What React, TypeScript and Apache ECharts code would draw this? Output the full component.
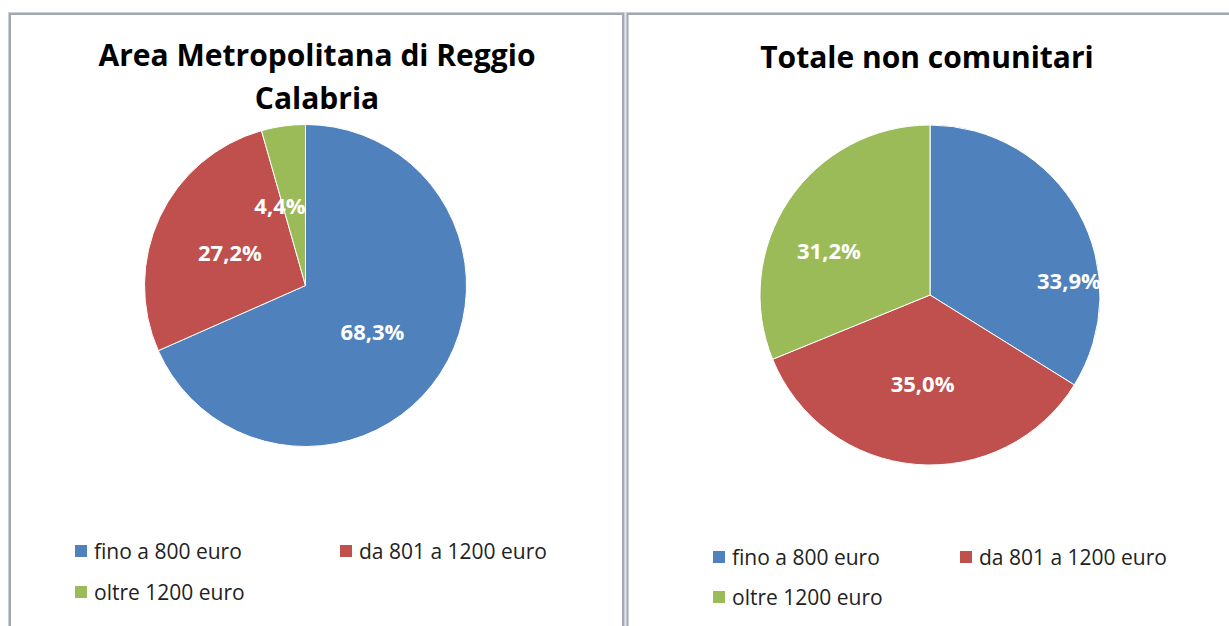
import React, { useEffect, useRef } from "react";
import * as echarts from "echarts";

const categories = ["fino a 800 euro", "da 801 a 1200 euro", "oltre 1200 euro"];
const reggioValues = [68.3, 27.2, 4.4];
const totaleValues = [33.9, 35.0, 31.2];
const panelTitles = ["Area Metropolitana di Reggio\nCalabria", "Totale non comunitari"];
const colors = ["#4F81BD", "#C0504D", "#9BBB59"];

// small label nudges (dx, dy) to mimic the reference placement
const labelNudge = [
  [[-3, 0], [0, 2], [-14, 2]],
  [[62, 28], [0, 0], [-28, 4]],
];

const fmt = (v: number) => v.toFixed(1).replace(".", ",") + "%";

export default function App() {
  const ref = useRef<HTMLDivElement>(null);
  useEffect(() => {
    document.body.style.margin = "0";
    const chart = echarts.init(ref.current!, null, { renderer: "svg" });
    const font = "'Open Sans', sans-serif";
    const legendPos = [
      [[73, 535], [338, 535], [73, 576]],
      [[711, 541], [958, 541], [711, 581]],
    ];
    const legends: any[] = [];
    legendPos.forEach((panel) =>
      panel.forEach((p, i) =>
        legends.push({
          data: [categories[i]],
          left: p[0],
          top: p[1],
          padding: 0,
          icon: "rect",
          itemWidth: 14,
          itemHeight: 14,
          selectedMode: false,
          textStyle: { fontFamily: font, fontSize: 21, color: "#222", lineHeight: 32, padding: [0, 0, 0, 1] },
        })
      )
    );
    const makeSeries = (vals: number[], center: number[], radius: number, si: number) => ({
      type: "pie",
      center,
      radius,
      startAngle: 90,
      clockwise: true,
      avoidLabelOverlap: false,
      data: categories.map((c, i) => ({ name: c, value: vals[i], itemStyle: { color: colors[i] } })),
      itemStyle: { borderColor: "#ffffff", borderWidth: 1 },
      label: {
        show: true,
        position: "inside",
        formatter: (p: any) => fmt(p.value),
        color: "#ffffff",
        fontWeight: "bold",
        fontSize: 22,
        fontFamily: font,
      },
      labelLine: { show: false },
      labelLayout: (p: any) => ({ dx: labelNudge[si][p.dataIndex][0], dy: labelNudge[si][p.dataIndex][1] }),
      emphasis: { disabled: true },
    });
    chart.setOption({
      animation: false,
      backgroundColor: "#ffffff",
      title: [
        {
          text: panelTitles[0],
          left: 317,
          top: 33,
          padding: 0,
          textAlign: "center",
          textStyle: { fontFamily: font, fontWeight: "bold", fontSize: 30, color: "#000", lineHeight: 43 },
        },
        {
          text: panelTitles[1],
          left: 927,
          top: 35,
          padding: 0,
          textAlign: "center",
          textStyle: { fontFamily: font, fontWeight: "bold", fontSize: 30, color: "#000", lineHeight: 43 },
        },
      ],
      legend: legends,
      graphic: [
        { type: "rect", shape: { x: 8.5, y: 12.5, width: 616, height: 640 }, style: { fill: "none", stroke: "#c9cdd6", lineWidth: 1 } },
        { type: "rect", shape: { x: 10, y: 14, width: 613, height: 640 }, style: { fill: "none", stroke: "#a3a7ae", lineWidth: 2 } },
        { type: "rect", shape: { x: 626, y: 12.5, width: 640, height: 640 }, style: { fill: "none", stroke: "#c9cdd6", lineWidth: 1 } },
        { type: "rect", shape: { x: 627.5, y: 14, width: 640, height: 640 }, style: { fill: "none", stroke: "#a3a7ae", lineWidth: 2 } },
      ],
      series: [
        makeSeries(reggioValues, [305.5, 285.5], 161, 0),
        makeSeries(totaleValues, [930, 295], 170, 1),
      ],
    });
    return () => chart.dispose();
  }, []);
  return <div ref={ref} style={{ position: "absolute", left: 0, top: 0, width: 1229, height: 626 }} />;
}
